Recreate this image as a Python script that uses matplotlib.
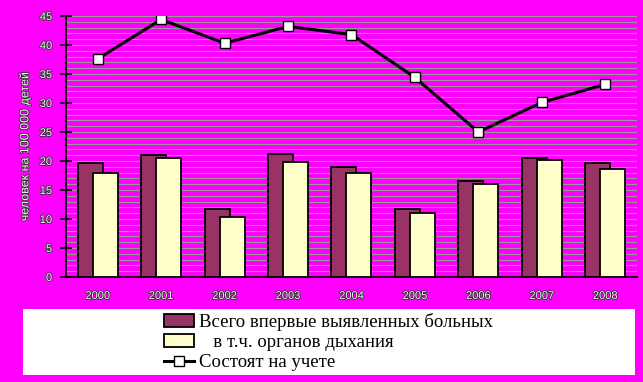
import matplotlib.pyplot as plt
import matplotlib.patheffects as pe
from matplotlib.patches import Rectangle
import numpy as np

years = ['2000', '2001', '2002', '2003', '2004', '2005', '2006', '2007', '2008']
# Всего впервые выявленных больных
total_new = [19.6, 21.0, 11.7, 21.2, 18.9, 11.8, 16.5, 20.5, 19.6]
# в т.ч. органов дыхания
respiratory = [17.9, 20.5, 10.3, 19.8, 17.9, 11.0, 16.0, 20.1, 18.6]
# Состоят на учете
registered = [37.6, 44.4, 40.3, 43.2, 41.8, 34.4, 25.0, 30.1, 33.2]

bg = '#ff00ff'
emboss = [pe.withStroke(linewidth=1.2, foreground='#303030')]

fig = plt.figure(figsize=(6.43, 3.82), dpi=100, facecolor=bg)
ax = fig.add_axes([0.1026, 0.2749, 0.888, 0.6832], facecolor=bg)

x = np.arange(len(years))
w = 0.394
b1 = ax.bar(x - 0.118, total_new, width=w, color='#993366', edgecolor='black',
            linewidth=1.3, zorder=3, label='Всего впервые выявленных больных')
b2 = ax.bar(x + 0.118, respiratory, width=w, color='#ffffcc', edgecolor='black',
            linewidth=1.3, zorder=4, label='   в т.ч. органов дыхания')
ln, = ax.plot(x, registered, color='black', linewidth=2.2, marker='s', markersize=7.5,
              markerfacecolor='white', markeredgecolor='black', markeredgewidth=1.0,
              zorder=5, label='Состоят на учете')

ax.set_xlim(-0.5, len(years) - 0.5)
ax.set_ylim(0, 45)
ax.set_yticks(range(0, 46, 5))
ax.set_yticks(range(0, 46, 1), minor=True)
ax.grid(True, which='both', axis='y', color='#999999', linewidth=0.8, zorder=0)
ax.set_axisbelow(True)

for s in ['top', 'right']:
    ax.spines[s].set_visible(False)
ax.spines['left'].set_linewidth(1.2)
ax.spines['bottom'].set_linewidth(1.2)

ax.set_xticks(x)
ax.set_xticklabels(years)
ax.tick_params(axis='x', length=0, pad=10)
ax.tick_params(axis='y', which='major', direction='inout', length=8, width=1.2, pad=6)
ax.tick_params(axis='y', which='minor', length=0)

for lab in ax.get_xticklabels() + ax.get_yticklabels():
    lab.set_family('Liberation Sans')
    lab.set_fontsize(8)
    lab.set_color('#f4f4f4')
    lab.set_path_effects(emboss)

ax.set_ylabel('человек на 100 000 детей', family='Liberation Sans', fontsize=9,
              color='#f4f4f4', path_effects=emboss, labelpad=6)

# legend panel
fig.patches.append(Rectangle((0.035, 0.018), 0.953, 0.173, transform=fig.transFigure,
                             facecolor='white', edgecolor='none', zorder=1))
leg = fig.legend([b1, b2, ln], [b1.get_label(), b2.get_label(), ln.get_label()],
                 loc='center left', bbox_to_anchor=(0.241, 0.104),
                 frameon=False, prop={'family': 'Liberation Serif', 'size': 13.5},
                 handlelength=1.6, handleheight=0.7, handletextpad=0.25,
                 labelspacing=0.15, borderpad=0)

fig.savefig('out.png', dpi=100, facecolor=bg)
